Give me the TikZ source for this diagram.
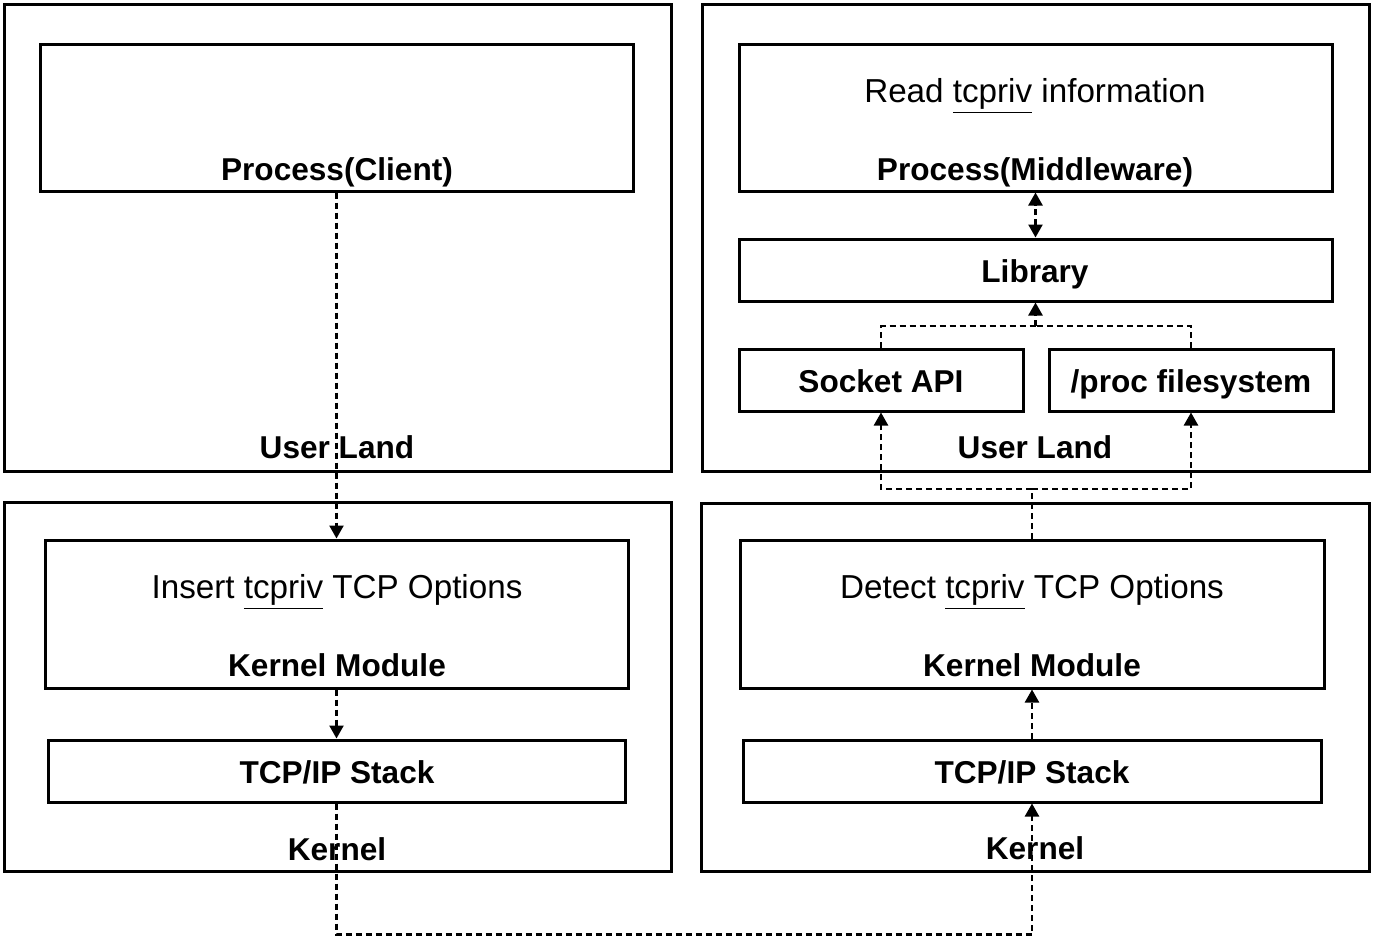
\documentclass[tikz,border=0pt]{standalone}
\usepackage{fontspec}
\setmainfont{Liberation Sans}
\usetikzlibrary{arrows.meta,fit}

\begin{document}
\begin{tikzpicture}[x=0.5pt, y=-0.5pt]
	\tikzstyle{area} = [draw, line width=1.5pt, rectangle, inner sep=0pt];
	\tikzstyle{caption} = [inner sep=0pt, text height=14.5pt, text depth=3pt, font={\fontsize{15.8}{18}\selectfont\bfseries}];
	\tikzstyle{plain} = [inner sep=0pt, text height=15pt, text depth=3.2pt, font={\fontsize{16.6}{19}\selectfont}];
	\tikzstyle{flow} = [black, line width=1.2pt, dash pattern=on 3pt off 2pt];
	\tikzstyle{flowArrow} = [flow, -{Triangle[length=6.5pt, width=7pt]}];
	\tikzstyle{flowBoth} = [flow, {Triangle[length=6.5pt, width=7pt]}-{Triangle[length=6.5pt, width=7pt]}];

	\useasboundingbox (0,0) rectangle (1373,937);

	% user land / kernel areas
	\node[area, fit={(4,4) (671,471)}] (ulL) {};
	\node[area, fit={(702,4) (1369,471)}] (ulR) {};
	\node[area, fit={(4,502) (671,871)}] (knL) {};
	\node[area, fit={(701,503) (1369,871)}] (knR) {};
	\node[caption] (ulLtxt) at (337,447) {User Land};
	\node[caption] (ulRtxt) at (1035,447) {User Land};
	\node[caption] (knLtxt) at (337,849) {Kernel};
	\node[caption] (knRtxt) at (1035,848) {Kernel};

	% client side
	\node[area, fit={(40,44) (633,191)}] (client) {};
	\node[caption] (clienttxt) at (337,169) {Process(Client)};
	\node[area, fit={(45,540) (628,688)}] (kmL) {};
	\node[plain] (kmLinfo) at (337,587) {Insert \underline{tcpriv} TCP Options};
	\node[caption] (kmLtxt) at (337,665) {Kernel Module};
	\node[area, fit={(48,740) (625,802)}] (tcpL) {};
	\node[caption] (tcpLtxt) at (337,772) {TCP/IP Stack};

	% middleware side
	\node[area, fit={(739,44) (1332,191)}] (mw) {};
	\node[plain] (mwinfo) at (1035,91) {Read \underline{tcpriv} information};
	\node[caption] (mwtxt) at (1035,169) {Process(Middleware)};
	\node[area, fit={(739,239) (1332,301)}] (lib) {};
	\node[caption] (libtxt) at (1035,271) {Library};
	\node[area, fit={(739,349) (1023,411)}] (sock) {};
	\node[caption] (socktxt) at (881,381) {Socket API};
	\node[area, fit={(1049,349) (1333,411)}] (proc) {};
	\node[caption] (proctxt) at (1191,381) {/proc filesystem};
	\node[area, fit={(740,540) (1324,688)}] (kmR) {};
	\node[plain] (kmRinfo) at (1032,587) {Detect \underline{tcpriv} TCP Options};
	\node[caption] (kmRtxt) at (1032,665) {Kernel Module};
	\node[area, fit={(743,740) (1321,802)}] (tcpR) {};
	\node[caption] (tcpRtxt) at (1032,772) {TCP/IP Stack};

	\coordinate (join) at (1035.5,326);
	\coordinate (split) at (1032,489);

	\draw[flowArrow] (client.south) -- (kmL.north);
	\draw[flowArrow] (kmL.south) -- (tcpL.north);
	\draw[flowArrow] (tcpL.south) -- ++(0,131) -| (tcpR.south);
	\draw[flowArrow] (tcpR.north) -- (kmR.south);
	\draw[flow] (kmR.north) -- (split);
	\draw[flowArrow] (split) -| (sock.south);
	\draw[flowArrow] (split) -| (proc.south);
	\draw[flow] (sock.north) |- (join);
	\draw[flow] (proc.north) |- (join);
	\draw[flowArrow] (join) -- (lib.south);
	\draw[flowBoth] (lib.north) -- (mw.south);
\end{tikzpicture}
\end{document}
